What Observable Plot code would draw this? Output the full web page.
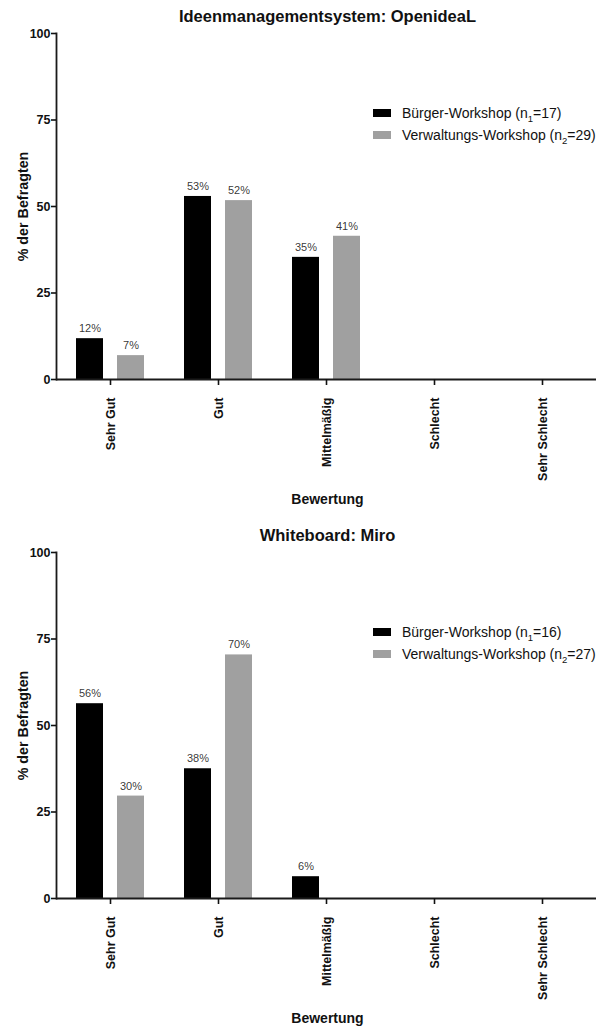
<!DOCTYPE html>
<html>
<head>
<meta charset="utf-8">
<script src="https://cdn.jsdelivr.net/npm/d3@7"></script>
<script src="https://cdn.jsdelivr.net/npm/@observablehq/plot@0.6"></script>
<style>
  body { margin: 0; background: #fff; font-family: "Liberation Sans", Arial, sans-serif; -webkit-font-smoothing: antialiased; }
  .block { position: relative; width: 601px; height: 519px; overflow: hidden; }
  .title { height: 24px; line-height: 32px; padding-left: 54px; text-align: center; font-weight: bold; font-size: 16.5px; color: #111; white-space: nowrap; }
  .xlabel { height: 33px; line-height: 26px; padding-left: 54px; text-align: center; font-weight: bold; font-size: 14px; color: #111; }
  .legend { position: absolute; left: 373px; top: 102px; font-size: 14px; color: #111; }
  .legend .row { height: 22px; line-height: 22px; display: flex; align-items: center; }
  .legend .sw { width: 18px; height: 8px; margin-right: 11px; }
  .legend sub { font-size: 9.5px; line-height: 0; }
</style>
</head>
<body>
<div id="root"></div>
<script>
const categories = ["Sehr Gut", "Gut", "Mittelmäßig", "Schlecht", "Sehr Schlecht"];
const series = ["Bürger-Workshop", "Verwaltungs-Workshop"];
const seriesColors = ["#000000", "#a0a0a0"];
const yTicks = [0, 25, 50, 75, 100];

const chartTitles = ["Ideenmanagementsystem: OpenideaL", "Whiteboard: Miro"];
const nBuerger = [17, 16];
const nVerwaltung = [29, 27];

const openidealBuerger = [11.8, 52.9, 35.3, 0, 0];
const openidealVerwaltung = [6.9, 51.7, 41.4, 0, 0];
const miroBuerger = [56.3, 37.5, 6.3, 0, 0];
const miroVerwaltung = [29.6, 70.4, 0, 0, 0];

const yLabel = "% der Befragten";
const xLabel = "Bewertung";

function rowsFor(b, v) {
  const rows = [];
  categories.forEach((c, i) => {
    rows.push({category: c, series: series[0], value: b[i]});
    rows.push({category: c, series: series[1], value: v[i]});
  });
  return rows;
}

function makeChart(rows) {
  return Plot.plot({
    width: 601,
    height: 462,
    marginLeft: 54,
    marginRight: 2.6,
    marginTop: 9,
    marginBottom: 107,
    style: {fontFamily: "'Liberation Sans', Arial, sans-serif", background: "white", color: "#111"},
    fx: {domain: categories, padding: 0, label: null},
    x: {domain: series, paddingInner: 0.338, paddingOuter: 0.484, axis: null},
    y: {domain: [0, 100], label: null},
    color: {domain: series, range: seriesColors},
    marks: [
      Plot.barY(rows, {fx: "category", x: "series", y: "value", fill: "series"}),
      Plot.text(rows.filter(d => d.value > 0), {
        fx: "category", x: "series", y: "value",
        text: d => Math.round(d.value) + "%",
        dy: -10, fill: "#333", fillOpacity: 0.99, fontSize: 11
      }),
      Plot.ruleY([0], {stroke: "#1a1a1a", strokeWidth: 1.8}),
      Plot.frame({anchor: "left", facetAnchor: "left", stroke: "#1a1a1a", strokeWidth: 1.8}),
      Plot.axisY({ticks: yTicks, tickSize: 5, tickPadding: 1, fontWeight: "bold", fontSize: 12.5, label: null, strokeWidth: 1.6}),
      Plot.text([yLabel], {frameAnchor: "left", textAnchor: "middle", rotate: -90, dx: -33, fontSize: 14.3, fontWeight: "bold", facetAnchor: "left", fill: "#111"}),
      Plot.axisFx({anchor: "bottom", tickSize: 6, tickPadding: 12, tickRotate: -90, fontWeight: "bold", fontSize: 12.5, label: null, strokeWidth: 1.6})
    ]
  });
}

const datasets = [
  rowsFor(openidealBuerger, openidealVerwaltung),
  rowsFor(miroBuerger, miroVerwaltung)
];

const root = document.getElementById("root");
datasets.forEach((rows, k) => {
  const block = document.createElement("div");
  block.className = "block";
  const t = document.createElement("div");
  t.className = "title";
  t.textContent = chartTitles[k];
  block.appendChild(t);
  block.appendChild(makeChart(rows));
  const xl = document.createElement("div");
  xl.className = "xlabel";
  xl.textContent = xLabel;
  block.appendChild(xl);
  const lg = document.createElement("div");
  lg.className = "legend";
  const ns = [nBuerger[k], nVerwaltung[k]];
  series.forEach((s, i) => {
    const row = document.createElement("div");
    row.className = "row";
    const sw = document.createElement("span");
    sw.className = "sw";
    sw.style.background = seriesColors[i];
    row.appendChild(sw);
    const tx = document.createElement("span");
    tx.innerHTML = s + " (n<sub>" + (i + 1) + "</sub>=" + ns[i] + ")";
    row.appendChild(tx);
    lg.appendChild(row);
  });
  block.appendChild(lg);
  root.appendChild(block);
});
</script>
</body>
</html>
